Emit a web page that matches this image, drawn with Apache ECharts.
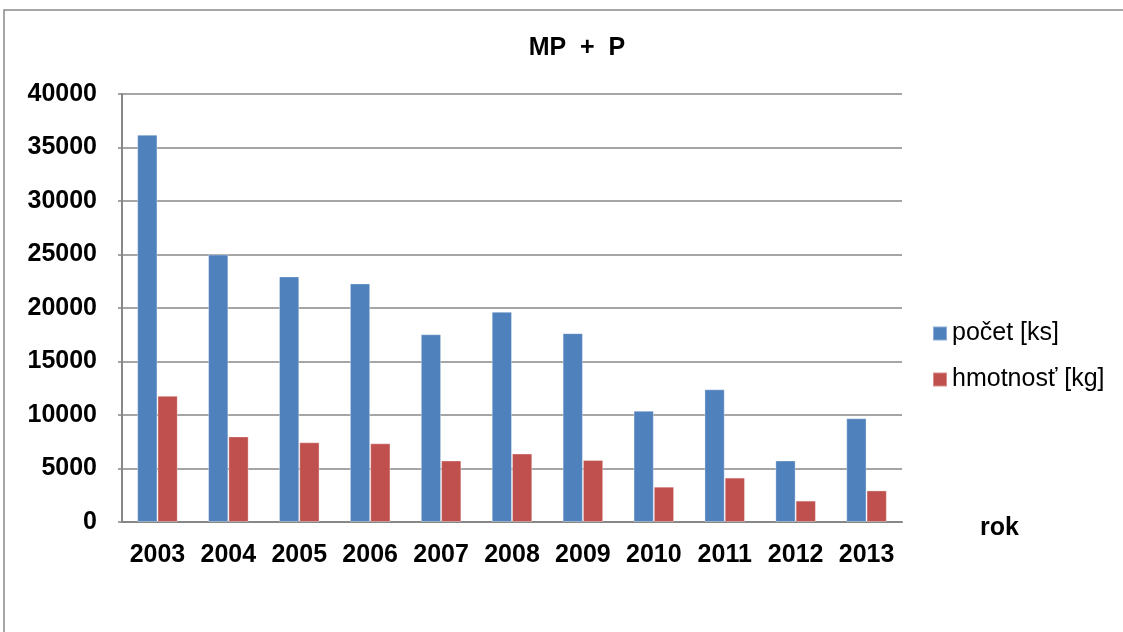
<!DOCTYPE html>
<html>
<head>
<meta charset="utf-8">
<title>MP + P</title>
<script src="https://cdn.jsdelivr.net/npm/echarts@6/dist/echarts.min.js"></script>
<style>
  html, body { margin: 0; padding: 0; background: #ffffff; }
  #chart { width: 1123px; height: 632px; }
</style>
</head>
<body>
<div id="chart"></div>
<script>
// Years on the category axis
const years = ['2003', '2004', '2005', '2006', '2007', '2008', '2009', '2010', '2011', '2012', '2013'];
// Number of pieces per year
const pocet = [36200, 25000, 22950, 22300, 17550, 19650, 17650, 10400, 12400, 5750, 9700];
// Weight in kilograms per year
const hmotnost = [11800, 8000, 7450, 7350, 5750, 6400, 5800, 3300, 4150, 2000, 2950];
// Series names shown in the legend
const seriesNames = ['počet [ks]', 'hmotnosť [kg]'];

const FONT = '"Liberation Sans", Arial, sans-serif';
const GRID_GREY = '#878787';

const chart = echarts.init(document.getElementById('chart'), null, { renderer: 'canvas' });

chart.setOption({
  animation: false,
  backgroundColor: '#ffffff',
  textStyle: { fontFamily: FONT },
  graphic: [{
    // outer chart-area frame (runs off the right and bottom edges)
    type: 'rect',
    shape: { x: 4, y: 10, width: 1160, height: 700 },
    style: { fill: 'none', stroke: '#8a8a8a', lineWidth: 1.5 },
    silent: true
  }],
  title: {
    text: 'MP  +  P',
    left: 572,
    top: 31,
    textAlign: 'center',
    textStyle: { fontFamily: FONT, fontWeight: 'bold', fontSize: 25, color: '#000000' }
  },
  legend: {
    orient: 'vertical',
    left: 927,
    top: 316,
    itemWidth: 14,
    itemHeight: 14,
    itemGap: 21,
    icon: 'rect',
    data: seriesNames,
    textStyle: { fontFamily: FONT, fontSize: 25, color: '#000000', lineHeight: 25 }
  },
  grid: { left: 122, right: 221, top: 94, bottom: 110 },
  xAxis: {
    type: 'category',
    data: years,
    name: 'rok',
    nameLocation: 'end',
    nameGap: 78,
    nameTextStyle: {
      fontFamily: FONT,
      fontWeight: 'bold',
      fontSize: 25,
      color: '#000000',
      verticalAlign: 'top',
      lineHeight: 12
    },
    axisLine: { show: true, lineStyle: { color: GRID_GREY, width: 2 } },
    axisTick: { show: false },
    axisLabel: { margin: 21, fontFamily: FONT, fontWeight: 'bold', fontSize: 25, color: '#000000', interval: 0 }
  },
  yAxis: {
    type: 'value',
    min: 0,
    max: 40000,
    interval: 5000,
    axisLine: { show: true, lineStyle: { color: GRID_GREY, width: 2 } },
    axisTick: { show: true, length: 4, lineStyle: { color: GRID_GREY, width: 1.5 } },
    axisLabel: {
      margin: 25,
      fontFamily: FONT,
      fontWeight: 'bold',
      fontSize: 25,
      color: '#000000',
      formatter: function (v) { return String(v); }
    },
    splitLine: { show: true, lineStyle: { color: GRID_GREY, width: 1.5 } }
  },
  series: [
    {
      name: seriesNames[0],
      type: 'bar',
      data: pocet,
      barGap: '0%',
      barCategoryGap: '42.8%',
      itemStyle: { color: '#4f81bd', borderColor: 'rgba(255,255,255,0.35)', borderWidth: 1 }
    },
    {
      name: seriesNames[1],
      type: 'bar',
      data: hmotnost,
      itemStyle: { color: '#c0504d', borderColor: 'rgba(255,255,255,0.35)', borderWidth: 1 }
    }
  ]
});
</script>
</body>
</html>
